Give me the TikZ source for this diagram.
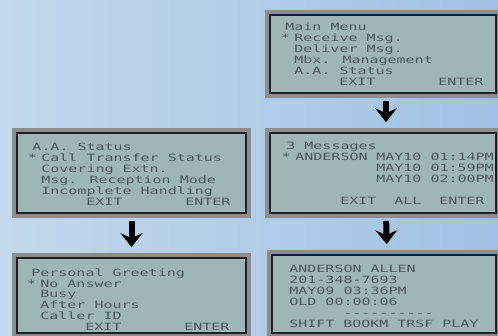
\documentclass[tikz,border=0pt]{standalone}
\usepackage{fontspec}
\usepackage{xcolor}
\usepackage{tikz}
\usetikzlibrary{positioning, arrows.meta, calc}

\newfontfamily\lcdfont[FakeStretch=1.5]{DejaVu Sans Mono}

\definecolor{bgleft}{HTML}{C3D8EC}
\definecolor{bgright}{HTML}{A0C2E4}
\definecolor{lcdback}{HTML}{A0B5B6}
\definecolor{lcdframe}{HTML}{8E8C8C}
\definecolor{lcdborder}{HTML}{1C1F22}
\definecolor{lcdink}{HTML}{4A575C}

\tikzset{
  screen/.style={draw=lcdborder, line width=1.7pt, fill=lcdback,
    preaction={draw=lcdframe, line width=10pt}, inner sep=0pt},
  lcdtext/.style={font=\lcdfont\fontsize{10}{12}\selectfont, text=lcdink,
    anchor=base west, inner sep=0pt},
  flow/.style={line width=6pt, -{Stealth[length=14pt, width=22pt, inset=5pt]},
    shorten <=7pt, shorten >=10pt}
}

\begin{document}
\begin{tikzpicture}[x=1pt, y=-1pt]
        \useasboundingbox (0,0) rectangle (498,335);
        \clip (0,0) rectangle (498,335);
        \shade[left color=bgleft, right color=bgright] (0,0) rectangle (498,335);

        % Screens
        \node[screen, minimum width=226pt, minimum height=78pt] (main) at (383,54) {};
        \node[screen, minimum width=226pt, minimum height=80pt] (msgs) at (383,173) {};
        \node[screen, minimum width=224pt, minimum height=78pt] (detail) at (384,294) {};
        \node[screen, minimum width=229pt, minimum height=80pt] (aastat) at (131.5,173) {};
        \node[screen, minimum width=229pt, minimum height=75pt] (greet) at (131.5,295.5) {};

        % Arrows
        \draw[flow] ([xshift=3pt]main.south) -- ([xshift=3pt]msgs.north);
        \draw[flow] ([xshift=3pt]msgs.south) -- ([xshift=3pt]detail.north);
        \draw[flow] (aastat.south) -- (greet.north);

        % Main menu
        \begin{scope}[shift={($(main.north west)+(16,16.5)$)}, x=9pt, y=-10.9pt]
          \node[lcdtext] (mmTitle) at (0,0) {Main Menu};
          \node[lcdtext] (mmMark) at (-0.5,1) {*};
          \node[lcdtext] (mmRecv) at (1,1) {Receive Msg.};
          \node[lcdtext] (mmDeliv) at (1,2) {Deliver Msg.};
          \node[lcdtext] (mmMbx) at (1,3) {Mbx. Management};
          \node[lcdtext] (mmAA) at (1,4) {A.A. Status};
          \node[lcdtext] (mmExit) at (6,5) {EXIT};
          \node[lcdtext] (mmEnter) at (17,5) {ENTER};
        \end{scope}

        % Message list
        \begin{scope}[shift={($(msgs.north west)+(17,17)$)}, x=9pt, y=-11pt]
          \node[lcdtext] (msTitle) at (0,0) {3 Messages};
          \node[lcdtext] (msMark) at (-0.5,1) {*};
          \node[lcdtext] (msName) at (1,1) {ANDERSON};
          \node[lcdtext] (msOne) at (10,1) {MAY10 01:14PM};
          \node[lcdtext] (msTwo) at (10,2) {MAY10 01:59PM};
          \node[lcdtext] (msThree) at (10,3) {MAY10 02:00PM};
          \node[lcdtext] (msExit) at (6,5) {EXIT};
          \node[lcdtext] (msAll) at (12,5) {ALL};
          \node[lcdtext] (msEnter) at (17,5) {ENTER};
        \end{scope}

        % Message detail
        \begin{scope}[shift={($(detail.north west)+(18,18)$)}, x=9pt, y=-11pt]
          \node[lcdtext] (dtName) at (0,0) {ANDERSON ALLEN};
          \node[lcdtext] (dtPhone) at (0,1) {201-348-7693};
          \node[lcdtext] (dtTime) at (0,2) {MAY09 03:36PM};
          \node[lcdtext] (dtOld) at (0,3) {OLD 00:00:06};
          \node[lcdtext] (dtBar) at (6,4) {----------};
          \node[lcdtext] (dtShift) at (0,5) {SHIFT};
          \node[lcdtext] (dtBook) at (6,5) {BOOKM};
          \node[lcdtext] (dtTrsf) at (12,5) {TRSF};
          \node[lcdtext] (dtPlay) at (17,5) {PLAY};
        \end{scope}

        % A.A. status
        \begin{scope}[shift={($(aastat.north west)+(16,18.5)$)}, x=9pt, y=-10.9pt]
          \node[lcdtext] (aaTitle) at (0,0) {A.A. Status};
          \node[lcdtext] (aaMark) at (-0.5,1) {*};
          \node[lcdtext] (aaCall) at (1,1) {Call Transfer Status};
          \node[lcdtext] (aaCover) at (1,2) {Covering Extn.};
          \node[lcdtext] (aaRecep) at (1,3) {Msg. Reception Mode};
          \node[lcdtext] (aaIncomp) at (1,4) {Incomplete Handling};
          \node[lcdtext] (aaExit) at (6,5) {EXIT};
          \node[lcdtext] (aaEnter) at (17,5) {ENTER};
        \end{scope}

        % Personal greeting
        \begin{scope}[shift={($(greet.north west)+(15,19)$)}, x=9pt, y=-10.9pt]
          \node[lcdtext] (pgTitle) at (0,0) {Personal Greeting};
          \node[lcdtext] (pgMark) at (-0.5,1) {*};
          \node[lcdtext] (pgNoAns) at (1,1) {No Answer};
          \node[lcdtext] (pgBusy) at (1,2) {Busy};
          \node[lcdtext] (pgAfter) at (1,3) {After Hours};
          \node[lcdtext] (pgCaller) at (1,4) {Caller ID};
          \node[lcdtext] (pgExit) at (6,5) {EXIT};
          \node[lcdtext] (pgEnter) at (17,5) {ENTER};
        \end{scope}

    \end{tikzpicture}
\end{document}
